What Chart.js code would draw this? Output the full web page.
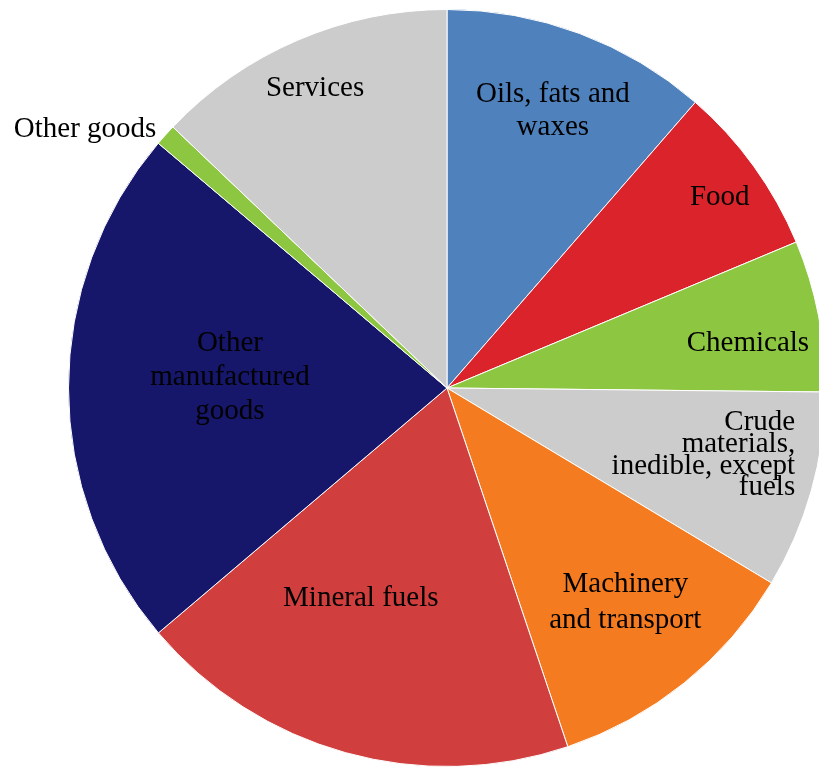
<!DOCTYPE html>
<html lang="en">
<head>
<meta charset="UTF-8">
<title>Trade composition</title>
<script src="https://cdn.jsdelivr.net/npm/chart.js"></script>
<style>
  html, body { margin: 0; padding: 0; background: #fff; overflow: hidden; }
  #wrap { width: 819px; height: 767px; overflow: hidden; }
</style>
</head>
<body>
<div id="wrap"><canvas id="chartCanvas" width="894" height="776"></canvas></div>
<script>
// slices, clockwise from 12 o'clock
const categories = [
    ['Oils, fats and', 'waxes'],
    ['Food'],
    ['Chemicals'],
    ['Crude', 'materials,', 'inedible, except', 'fuels'],
    ['Machinery', 'and transport'],
    ['Mineral fuels'],
    ['Other', 'manufactured', 'goods'],
    ['Other goods'],
    ['Services']
];
const shares = [11.39, 7.31, 6.47, 8.44, 11.22, 18.97, 22.39, 0.92, 12.89];
const colours = ['#4f81bd', '#da232a', '#8dc641', '#cccccc', '#f47b20', '#d03e3e', '#16166b', '#8dc641', '#cccccc'];

// label placement: angle (deg clockwise from top), distance as share of radius
const labelAngles = [20.9, 55.0, 81.5, 100.9, 140.2, 202.3, 272.9, 305.5, 336.2];
const labelDist = [0.785, 0.881, 0.805, 0.938, 0.737, 0.601, 0.575, 1.176, 0.865];
const labelAlign = ['center', 'center', 'center', 'right', 'center', 'center', 'center', 'center', 'center'];
const lineHeights = [33, 34, 34, 21.7, 36, 34, 34, 34, 34];

const sliceLabels = {
    id: 'sliceLabels',
    afterDatasetsDraw(chart) {
        const ctx = chart.ctx;
        const arcs = chart.getDatasetMeta(0).data;
        ctx.save();
        ctx.fillStyle = '#000';
        ctx.font = '29px "Liberation Serif", "Times New Roman", serif';
        ctx.textBaseline = 'middle';
        arcs.forEach((arc, i) => {
            const a = (labelAngles[i] - 90) * Math.PI / 180;
            const r = 378 * labelDist[i];
            const x = arc.x + Math.cos(a) * r;
            const y = arc.y + Math.sin(a) * r;
            const lines = categories[i];
            ctx.textAlign = labelAlign[i];
            lines.forEach((line, j) => {
                ctx.fillText(line, x, y + (j - (lines.length - 1) / 2) * lineHeights[i]);
            });
        });
        ctx.restore();
    }
};

const ctx = document.getElementById('chartCanvas').getContext('2d');
new Chart(ctx, {
    type: 'pie',
    data: {
        labels: categories.map(l => l.join(' ')),
        datasets: [{
            data: shares,
            backgroundColor: colours,
            borderColor: '#ffffff',
            borderWidth: 1
        }]
    },
    options: {
        responsive: false,
        animation: false,
        layout: { padding: 9 },
        plugins: {
            legend: { display: false },
            tooltip: { enabled: false }
        }
    },
    plugins: [sliceLabels]
});
</script>
</body>
</html>
